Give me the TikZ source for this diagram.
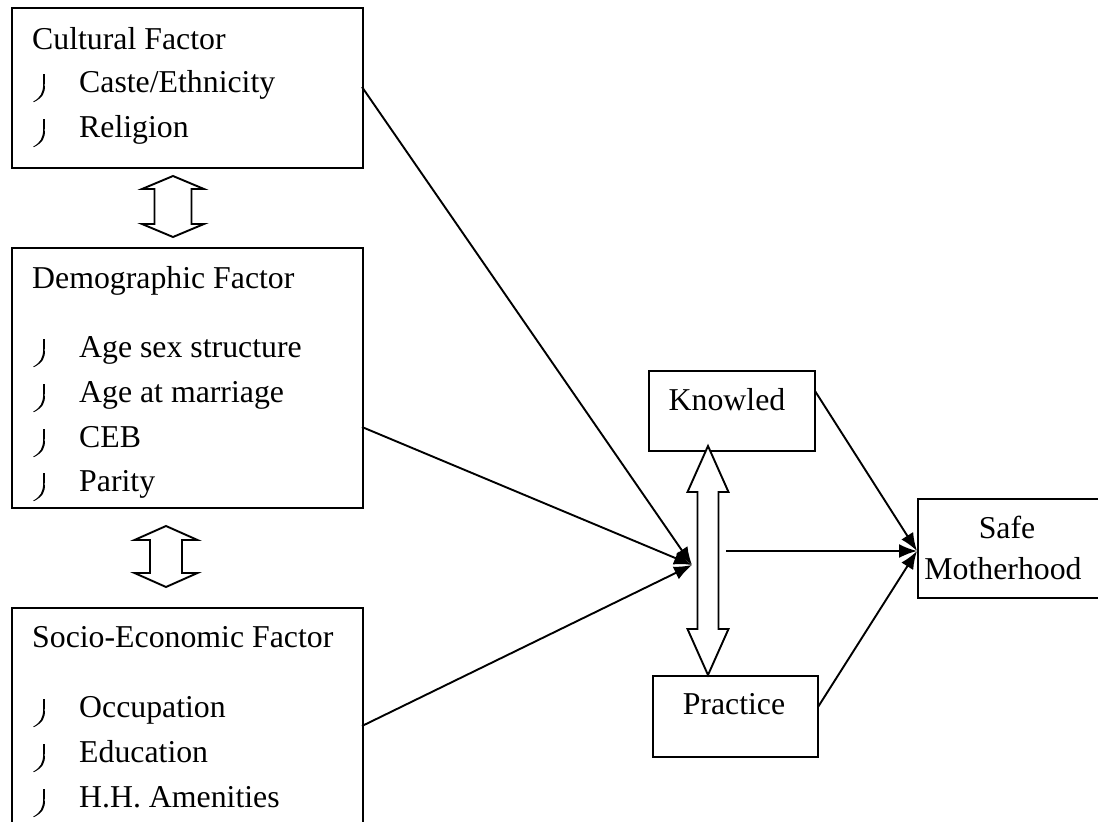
\documentclass[tikz,border=0pt]{standalone}
\usepackage{fontspec}
\setmainfont{Liberation Serif}
\usetikzlibrary{arrows.meta}
\newcommand\vdarr[6]{%
  \draw[thickline,fill=white] (#1-#5,#2+#6) -- (#1-#4,#2+#6) -- (#1,#2) -- (#1+#4,#2+#6) -- (#1+#5,#2+#6)
   -- (#1+#5,#3-#6) -- (#1+#4,#3-#6) -- (#1,#3) -- (#1-#4,#3-#6) -- (#1-#5,#3-#6) -- cycle;}
\newcommand\bul[2]{%
  \draw[line width=1.4pt] (#1+10.8,#2-18) -- (#1+10.8,#2-8);
  \fill (#1+10.1,#2-8) .. controls (#1+10.3,#2+1) and (#1+7,#2+6) .. (#1+0.3,#2+9.5)
        -- (#1+0.8,#2+10.2) .. controls (#1+9,#2+6) and (#1+13.2,#2+1) .. (#1+11.5,#2-8) -- cycle;}
\begin{document}
\begin{tikzpicture}[x=1pt,y=-1pt,
  thickline/.style={line width=1.9pt},
  box/.style={draw,thickline,anchor=north west,inner sep=0pt},
  txt/.style={anchor=base west,inner sep=0pt,font=\fontsize{31.8}{36}\selectfont},
  ctxt/.style={anchor=base,inner sep=0pt,font=\fontsize{31.8}{36}\selectfont},
  link/.style={thickline,-{Latex[length=18pt,width=14pt]}}]
\path[use as bounding box,clip] (0,0) rectangle (1098,822);
% left boxes
\node[box,minimum width=351pt,minimum height=160pt] (cult) at (11,7) {};
\node[box,minimum width=351pt,minimum height=260pt] (demo) at (11,247) {};
\node[box,minimum width=351pt,minimum height=240pt] (soc) at (11,607) {};
% texts
\node[txt] (t1) at (32,49) {Cultural Factor};
\node[txt] (t1a) at (79,92) {Caste/Ethnicity};
\node[txt] (t1b) at (79,137) {Religion};
\bul{33}{92}\bul{33}{137}
\node[txt] (t2) at (32,288) {Demographic Factor};
\node[txt] (t2a) at (79,357) {Age sex structure};
\node[txt] (t2b) at (79,402) {Age at marriage};
\node[txt] (t2c) at (79,447) {CEB};
\node[txt] (t2d) at (79,491) {Parity};
\bul{33}{357}\bul{33}{402}\bul{33}{447}\bul{33}{491}
\node[txt] (t3) at (32,647) {Socio-Economic Factor};
\node[txt] (t3a) at (79,717) {Occupation};
\node[txt] (t3b) at (79,762) {Education};
\node[txt] (t3c) at (79,807) {H.H. Amenities};
\bul{33}{717}\bul{33}{762}\bul{33}{807}
% vertical double arrows
\vdarr{173}{176}{237}{31}{18.5}{13}
\vdarr{166}{526}{587}{31.5}{16}{14}
% right boxes
\node[box,minimum width=166pt,minimum height=80pt] (know) at (648,370) {};
\node[ctxt] (kt) at (727,410) {Knowled};
\node[box,minimum width=165pt,minimum height=81pt] (prac) at (652,675) {};
\node[ctxt] (pt) at (734,714) {Practice};
\node[box,minimum width=200pt,minimum height=99pt] (safe) at (917,498) {};
\node[ctxt] (st1) at (1007,538) {Safe};
\node[ctxt] (st2) at (1003,579) {Motherhood};
% K-P double arrow
\vdarr{708}{446}{675}{20.5}{10.5}{46}
% connectors
\coordinate (m) at (692,565);
\coordinate (s) at (917,551);
\coordinate (h) at (726,551);
\draw[link] (362,87) -- (m);
\draw[link] (362,427) -- (m);
\draw[link] (362,726) -- (m);
\draw[link] (815,391) -- (s);
\draw[link] (h) -- (s);
\draw[link] (818,707) -- (s);
\end{tikzpicture}
\end{document}
